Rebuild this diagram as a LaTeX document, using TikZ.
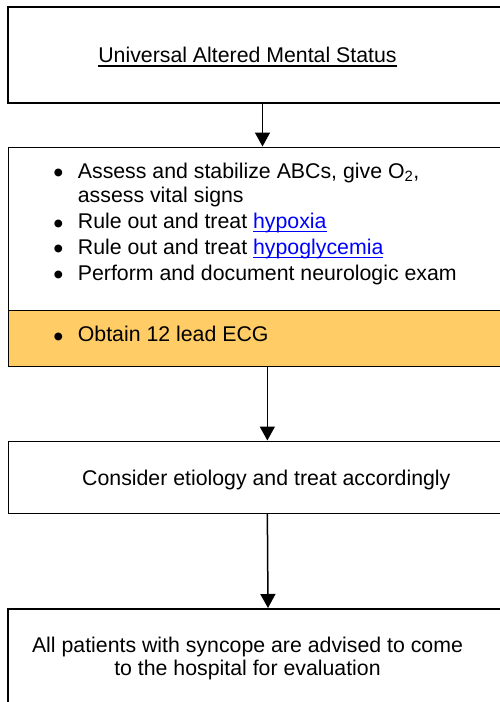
\documentclass[tikz,border=0pt]{standalone}
\usepackage{fontspec}
\setmainfont{Liberation Sans}
\usepackage{tikz}
\usetikzlibrary{positioning}
\usetikzlibrary{arrows.meta}
\definecolor{orangeecg}{HTML}{FFCC66}
\definecolor{bleulien}{HTML}{0000FF}
% soulignement un peu plus épais que \underline
\newcommand{\souligne}[1]{\setbox0\hbox{#1}\rlap{\rule[-3.8pt]{\wd0}{1.4pt}}\box0}
\newcommand{\lien}[1]{\textcolor{bleulien}{\souligne{#1}}}
\newcommand{\puce}{\makebox[24.5pt][l]{\raisebox{-4.6pt}{\scalebox{1.35}{\textbullet}}}}

\begin{document}
\begin{tikzpicture}[x=1pt,y=-1pt]
% définition des styles
\tikzstyle boitemince=[draw=black,line width=1.3pt,rectangle,anchor=north west,inner sep=0pt]
\tikzstyle boiteepaisse=[boitemince,line width=2pt]
\tikzstyle flechebas=[line width=1.5pt,-{Triangle[length=14pt,width=15pt]}]
\tikzstyle textebase=[anchor=base,inner sep=0pt,font=\fontsize{21.3}{23.5}\selectfont]
% la page coupe les boites à droite et en bas
\clip (0,0) rectangle (500,702);
% les boites
\node[boiteepaisse,minimum width=509pt,minimum height=96pt] (titre) at (7,6) {};
\node[boitemince,minimum width=517.4pt,minimum height=163.5pt] (bilan) at (8,146.5) {};
\node[boitemince,fill=orangeecg,minimum width=517.4pt,minimum height=56pt] (ecg) at (8,310) {};
\node[boitemince,minimum width=517.4pt,minimum height=72pt] (etio) at (8,440.5) {};
\node[boiteepaisse,minimum width=520pt,minimum height=120pt] (hopital) at (7,608) {};
% les textes
\node[textebase] (txttitre) at (247.5,62.7) {\souligne{Universal Altered Mental Status}};
\node[textebase,anchor=base west,font=\fontsize{21.3}{24.4}\selectfont] (txtbilan) at (53.2,178.3) {%
  \begin{tabular}[t]{@{}l@{}}
  \puce Assess and stabilize ABCs, give O\textsubscript{2},\\
  \phantom{\puce}assess vital signs\\[1.4pt]
  \puce Rule out and treat \lien{hypoxia}\\[1.4pt]
  \puce Rule out and treat \lien{hypoglycemia}\\[1.4pt]
  \puce Perform and document neurologic exam
  \end{tabular}};
\node[textebase,anchor=base west] (txtecg) at (53.2,341.7) {\puce Obtain 12 lead ECG};
\node[textebase] (txtetio) at (266.3,485) {Consider etiology and treat accordingly};
% ancre base = ligne du bas
\node[textebase,align=center] (txthopital) at (247.5,675.5) {All patients with syncope are advised to come\\to the hospital for evaluation};
% les flèches
\draw[flechebas] (titre.south) -- (titre.south |- bilan.north);
\draw[flechebas] (ecg.south) -- (etio.north);
\draw[flechebas] (etio.south) -- (hopital.north);
\end{tikzpicture}
\end{document}
